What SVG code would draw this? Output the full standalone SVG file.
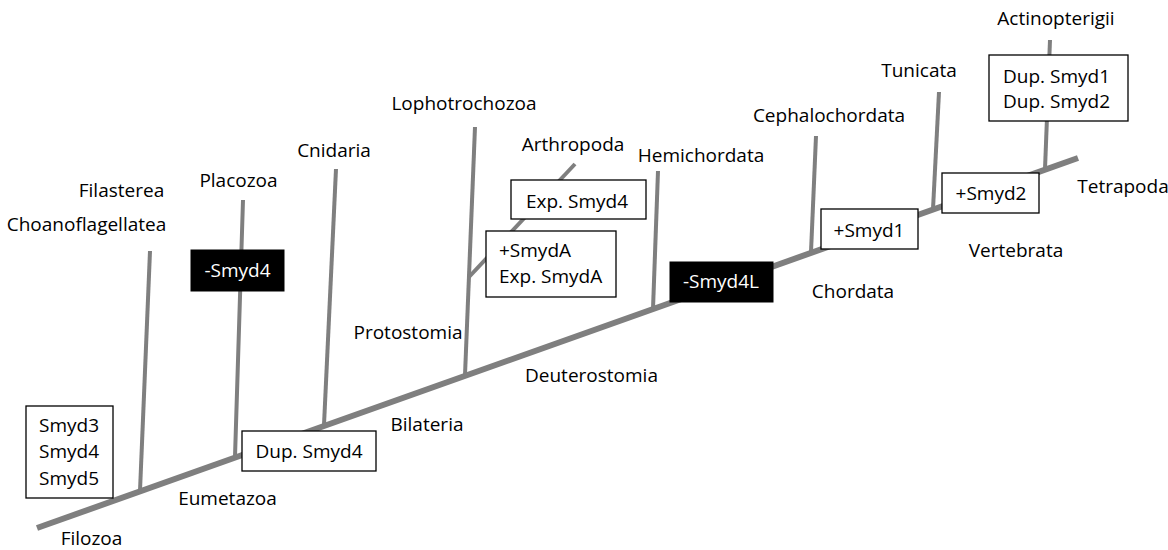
<svg xmlns="http://www.w3.org/2000/svg" width="1168" height="550" viewBox="0 0 1168 550">
<style>
text{font-family:"Open Sans","Liberation Sans",sans-serif;font-size:19px;fill:#000;text-anchor:middle}
.trunk{stroke:#7f7f7f;stroke-width:6;fill:none}
.br{stroke:#7f7f7f;stroke-width:4;fill:none}
.box{fill:#fff;stroke:#000;stroke-width:1.3}
.blk{fill:#000;stroke:#000;stroke-width:1}
.wt{fill:#fff}
.l{text-anchor:start}
</style>
<rect width="1168" height="550" fill="#fff"/>
<g id="connectors">
<line class="trunk" x1="37" y1="528" x2="1078" y2="158"/>
<line class="br" x1="140" y1="491" x2="150" y2="251"/>
<line class="br" x1="235" y1="457" x2="243" y2="200"/>
<line class="br" x1="324" y1="425" x2="336" y2="169"/>
<line class="br" x1="465" y1="375" x2="475" y2="127"/>
<line class="br" x1="469" y1="277" x2="575" y2="164"/>
<line class="br" x1="653" y1="309" x2="658" y2="171"/>
<line class="br" x1="811" y1="252" x2="816" y2="136"/>
<line class="br" x1="933" y1="209" x2="939" y2="92"/>
<line class="br" x1="1045" y1="169" x2="1050" y2="40"/>
</g>
<g id="labels">
<text x="121.5" y="197">Filasterea</text>
<text x="86.5" y="231">Choanoflagellatea</text>
<text x="238.5" y="187">Placozoa</text>
<text x="334" y="157">Cnidaria</text>
<text x="464" y="110">Lophotrochozoa</text>
<text x="573" y="151">Arthropoda</text>
<text x="701" y="162">Hemichordata</text>
<text x="829" y="122">Cephalochordata</text>
<text x="919" y="77">Tunicata</text>
<text x="1056" y="25">Actinopterigii</text>
<text x="1123" y="193">Tetrapoda</text>
<text x="1016" y="257">Vertebrata</text>
<text x="853" y="298">Chordata</text>
<text x="591.5" y="382">Deuterostomia</text>
<text x="408" y="339">Protostomia</text>
<text x="427" y="431">Bilateria</text>
<text x="227.5" y="505">Eumetazoa</text>
<text x="91.5" y="545">Filozoa</text>
</g>
<g id="box-smyd345">
<rect class="box" x="26" y="406" width="87" height="92"/>
<text x="69" y="432">Smyd3</text>
<text x="69" y="458">Smyd4</text>
<text x="69" y="485">Smyd5</text>
</g>
<g id="box-minus-smyd4">
<rect class="blk" x="191" y="250" width="93" height="41"/>
<text class="wt" x="237.5" y="277">-Smyd4</text>
</g>
<g id="box-dup-smyd4">
<rect class="box" x="242" y="431" width="134" height="40"/>
<text x="309" y="458">Dup. Smyd4</text>
</g>
<g id="box-exp-smyd4">
<rect class="box" x="511" y="180" width="135" height="39"/>
<text x="577" y="208">Exp. Smyd4</text>
</g>
<g id="box-smyda">
<rect class="box" x="486" y="231" width="130" height="66"/>
<text class="l" x="499" y="257">+SmydA</text>
<text class="l" x="499" y="283">Exp. SmydA</text>
</g>
<g id="box-minus-smyd4l">
<rect class="blk" x="670" y="262" width="103" height="40"/>
<text class="wt" x="721" y="288">-Smyd4L</text>
</g>
<g id="box-plus-smyd1">
<rect class="box" x="821" y="209" width="97" height="40"/>
<text x="869" y="237">+Smyd1</text>
</g>
<g id="box-plus-smyd2">
<rect class="box" x="942" y="173" width="97" height="40"/>
<text x="991" y="200">+Smyd2</text>
</g>
<g id="box-dup-smyd12">
<rect class="box" x="989" y="55" width="139" height="66"/>
<text class="l" x="1003" y="83">Dup. Smyd1</text>
<text class="l" x="1003" y="108">Dup. Smyd2</text>
</g>
</svg>
